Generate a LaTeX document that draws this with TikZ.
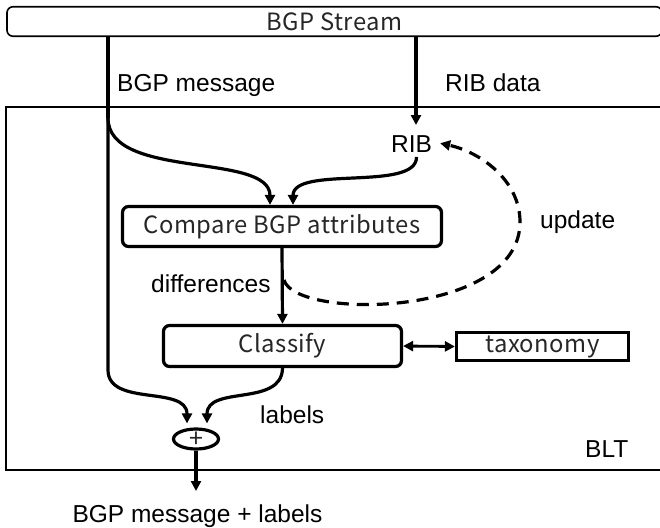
\documentclass[tikz,border=0pt]{standalone}
\usepackage{fontspec}
\setmainfont{Liberation Sans}
\newfontfamily\gothic[LetterSpace=2]{Noto Sans CJK JP}
\newfontfamily\gothicplain{Noto Sans CJK JP}
\usetikzlibrary{arrows.meta,shapes.geometric,calc}
\begin{document}
\begin{tikzpicture}[x=1pt,y=-1pt,
  thinbox/.style={draw, line width=1.6pt, inner sep=0pt},
  boxfont/.style={font=\gothic\fontsize{23.8}{28}\selectfont, text=black!85},
  procbox/.style={draw, line width=3.2pt, rounded corners=6pt, inner sep=0pt, boxfont},
  sqbox/.style={draw, line width=3.2pt, inner sep=0pt, boxfont},
  lbl/.style={font=\fontsize{24.5}{28}\selectfont, inner sep=0pt},
  conn/.style={line width=3.2pt},
  arr/.style={conn, -{Triangle[length=10pt,width=10pt]}},
  dasharr/.style={arr, dash pattern=on 12pt off 8pt},
  dblarr/.style={line width=2.8pt, {Triangle[length=10pt,width=10pt]}-{Triangle[length=10pt,width=10pt]}}
]
\useasboundingbox (0,0) rectangle (660,527);
% containers
\node[thinbox, minimum width=674pt, minimum height=363pt] (blt) at (343,288.5) {};
\node[thinbox, rounded corners=6pt, minimum width=655pt, minimum height=29.5pt, boxfont] (stream) at (334.5,21.5) {BGP Stream};
% process boxes
\node[procbox, minimum width=319pt, minimum height=40pt] (compare) at (282,226.5) {Compare BGP attributes};
\node[procbox, minimum width=238pt, minimum height=41pt] (classify) at (282.5,346) {Classify};
\node[sqbox, minimum width=172pt, minimum height=28pt] (taxonomy) at (542.5,346.5) {taxonomy};
\node[draw, ellipse, line width=3.2pt, minimum width=45pt, minimum height=20pt, inner sep=0pt,
      font=\gothicplain\fontsize{25}{26}\selectfont, text=black!85] (plus) at (196,439) {\raisebox{-8.5pt}[0pt][0pt]{+}};
% labels
\node[lbl, anchor=base west] (lmsg) at (117,91) {BGP message};
\node[lbl, anchor=base west] (lrib) at (445,91) {RIB data};
\node[lbl, anchor=base] (rib) at (411.5,152.7) {RIB};
\node[lbl, anchor=base west] (lupd) at (540,228) {update};
\node[lbl, anchor=base west] (ldiff) at (151,292) {differences};
\node[lbl, anchor=base west] (llab) at (260,423) {labels};
\node[lbl, anchor=base west] (lblt) at (585,457) {BLT};
\node[lbl, anchor=base] (out) at (197.5,522) {BGP message + labels};
% helper coordinates
\coordinate (msgsplit) at (108,118);
\coordinate (msgbend) at (108,370);
\coordinate (ribtip) at (416,125);
\coordinate (updstart) at (284,280);
\coordinate (outtip) at (196,491);
% connectors
\draw[conn] (stream.south -| msgsplit) -- (msgsplit);
\draw[arr] (msgsplit) .. controls (108,180) and (270,152) .. ([xshift=-12pt]compare.north);
\draw[arr] (msgsplit) -- (msgbend) .. controls (108,407) and (187,385) .. ([xshift=-9pt,yshift=4pt]plus.north);
\draw[arr] (stream.south -| ribtip) -- (ribtip);
\draw[arr] ([xshift=5pt,yshift=-4pt]rib.south) .. controls (417,192) and (293,165) .. ([xshift=11pt]compare.north);
\draw[arr] (compare.south) -- (classify.north);
\draw[dasharr] (updstart) .. controls (295,320) and (520,318) .. (520,222) .. controls (520,180) and (480,152) .. ([xshift=8pt,yshift=1pt]rib.east);
\draw[dblarr] (classify.east) -- (taxonomy.west);
\draw[arr] (classify.south) .. controls (282,407) and (207,385) .. ([xshift=11pt,yshift=4pt]plus.north);
\draw[arr] (plus.south) -- (outtip);
\end{tikzpicture}
\end{document}
